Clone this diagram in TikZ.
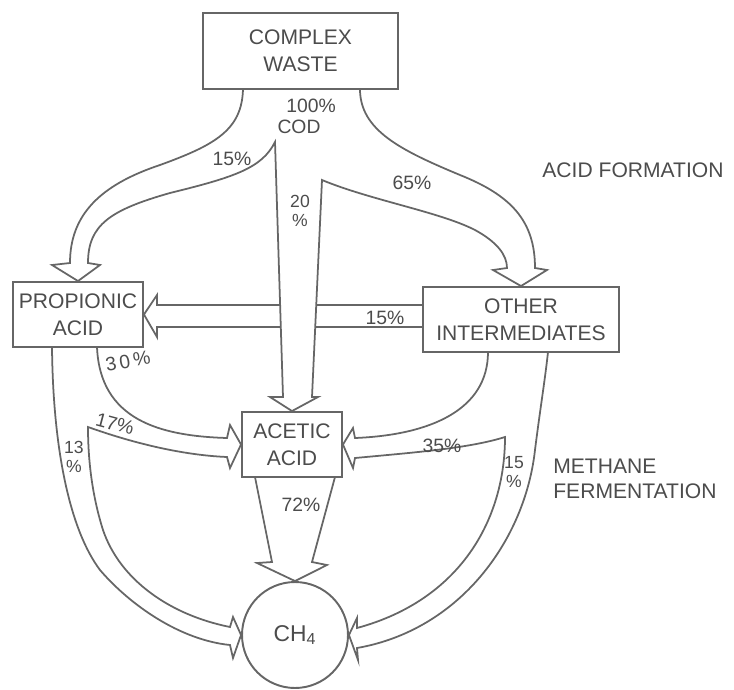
\documentclass[tikz,border=0pt]{standalone}
\usepackage{fontspec}
\setmainfont{Liberation Sans}
\usetikzlibrary{backgrounds}
\tikzset{
  bx/.style={rectangle,draw=black!60,line width=1.1pt,fill=white,inner sep=0pt,align=center,text=black!70,font=\fontsize{12}{15.5}\selectfont},
  cir/.style={circle,draw=black!60,line width=1.1pt,fill=white,minimum size=2.12cm,inner sep=0pt,text=black!70,font=\fontsize{13}{15}\selectfont},
  band/.style={draw=black!60,line width=1pt,fill=white,line join=miter},
  pct/.style={inner sep=0pt,align=center,text=black!70,font=\fontsize{11}{12}\selectfont},
  pctt/.style={inner sep=0pt,align=center,text=black!70,font=\fontsize{10}{11}\selectfont},
  stage/.style={inner sep=0pt,align=left,text=black!70,font=\fontsize{12}{14.5}\selectfont},
}
\begin{document}
\begin{tikzpicture}[x=0.02cm,y=-0.02cm]
  \useasboundingbox (0,0) rectangle (734,690);
  % boxes
  \node[bx,minimum width=3.9cm,minimum height=1.52cm] (waste) at (300.5,51) {COMPLEX\\WASTE};
  \node[bx,minimum width=2.6cm,minimum height=1.3cm] (prop) at (78,314.5) {PROPIONIC\\ACID};
  \node[bx,minimum width=3.92cm,minimum height=1.3cm] (other) at (521,319.5) {OTHER\\INTERMEDIATES};
  \node[bx,minimum width=2cm,minimum height=1.3cm] (acetic) at (292,444.5) {ACETIC\\ACID};
  \node[cir] (ch4) at (295,635) {CH\textsubscript{4}};
  % flow bands
  \begin{scope}[on background layer]
    \draw[band] (423,305) -- (157,305) -- (157,295) -- (prop.east) -- (157,337) -- (157,327) -- (423,327) -- cycle;
    \draw[band] (243,89) .. controls (242,130) and (215,145) .. (160,165) .. controls (100,185) and (70,215) .. (70,263)
      -- (52,265) -- (prop.north) -- (100,265) -- (88,263)
      .. controls (88,225) and (110,210) .. (170,193) .. controls (235,177) and (262,168) .. (275,142)
      -- (283,397) -- (270,397) -- (acetic.north) -- (318,397) -- (312,397) -- (322,180)
      .. controls (370,200) and (440,212) .. (475,230) .. controls (497,242) and (507,255) .. (507,268)
      -- (493,270) -- (other.north) -- (547,270) -- (535,268)
      .. controls (535,220) and (510,195) .. (460,175) .. controls (400,150) and (360,130) .. (360,89) -- cycle;
    \draw[band] (52,347) .. controls (53,450) and (70,530) .. (100,570) .. controls (130,605) and (180,640) .. (230,645)
      -- (233,658) -- (ch4.west) -- (233,617) -- (230,627)
      .. controls (170,615) and (120,580) .. (103,530) .. controls (92,495) and (88,460) .. (88,427)
      .. controls (130,442) and (180,455) .. (227,457)
      -- (230,468) -- (acetic.west) -- (230,425) -- (227,438)
      .. controls (160,436) and (100,420) .. (97,347) -- cycle;
    \draw[band] (488,352) .. controls (488,410) and (430,435) .. (355,438)
      -- (353,428) -- (acetic.east) -- (353,468) -- (355,458)
      .. controls (420,452) and (470,448) .. (505,437)
      .. controls (505,520) and (460,600) .. (357,628)
      -- (357,618) -- (ch4.east) -- (358,660) -- (357,648)
      .. controls (460,630) and (525,540) .. (535,450) .. controls (540,410) and (545,380) .. (548,352) -- cycle;
    \draw[band] (255,477) -- (272,562) -- (257,563) -- (ch4.north) -- (327,565) -- (312,562) -- (335,477) -- cycle;
  \end{scope}
  % labels
  \node[pct] (p100) at (311,106) {100\%};
  \node[pct] (cod) at (299,127) {COD};
  \node[pct] (p15a) at (232,159) {15\%};
  \node[pctt] (p20) at (300,211) {20\\\%};
  \node[pct] (p65) at (412,183) {65\%};
  \node[pct] (p15b) at (385,318) {15\%};
  \node[pct,rotate=10] (p30) at (128,361) {3\,0\,\%};
  \node[pct,rotate=-15] (p17) at (115,424) {17\%};
  \node[pctt] (p13) at (74,457) {13\\\%};
  \node[pct] (p72) at (301,505) {72\%};
  \node[pct] (p35) at (442,446) {35\%};
  \node[pctt] (p15c) at (514,472) {15\\\%};
  \node[stage] (acidf) at (633,170) {ACID FORMATION};
  \node[stage,anchor=west] (methf) at (553,479) {METHANE\\FERMENTATION};
\end{tikzpicture}
\end{document}
